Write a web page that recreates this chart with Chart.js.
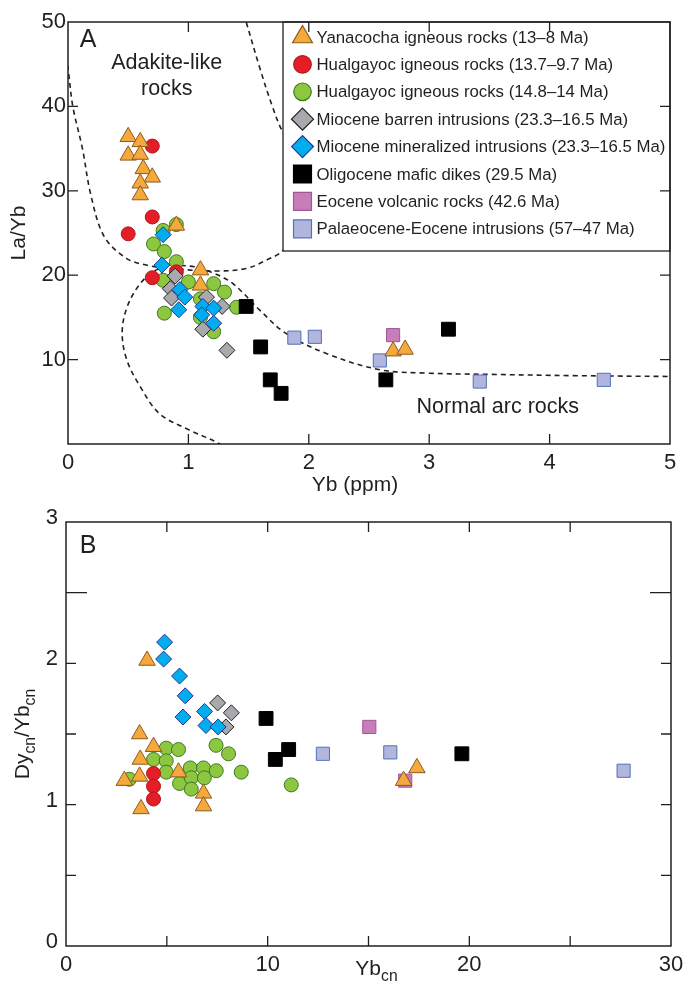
<!DOCTYPE html>
<html>
<head>
<meta charset="utf-8">
<script src="https://cdn.jsdelivr.net/npm/chart.js@4.4.1/dist/chart.umd.min.js"></script>
<style>
  body { margin: 0; background: #fff; }
  #boxA { position: absolute; left: 0; top: 0; width: 697px; height: 500px; }
  #boxB { position: absolute; left: 0; top: 500px; width: 697px; height: 492px; }
</style>
</head>
<body>
<div id="boxA"><canvas id="chartA" width="697" height="500"></canvas></div>
<div id="boxB"><canvas id="chartB" width="697" height="492"></canvas></div>
<script>
console.log("la_yb_page");

const FONT = "'Liberation Sans', Arial, Helvetica, sans-serif";
const INK = "#231f20";

// ---- panel A: La/Yb vs Yb (ppm)
const yanaA_x = [0.50, 0.60, 0.50, 0.60, 0.625, 0.70, 0.60, 0.60, 0.90, 1.10, 1.10, 2.70, 2.80];
const yanaA_y = [36.4, 35.8, 34.2, 34.3, 32.6, 31.6, 30.9, 29.5, 25.9, 20.6, 18.8, 11.0, 11.2];
const redA_x = [0.70, 0.70, 0.50, 0.70, 0.90];
const redA_y = [35.3, 26.9, 24.9, 19.7, 20.4];
const greenA_x = [0.79, 0.90, 0.71, 0.80, 0.90, 0.79, 1.00, 1.21, 1.30, 0.80, 1.10, 1.40, 1.21, 1.10];
const greenA_y = [25.3, 26.0, 23.7, 22.8, 21.6, 19.4, 19.2, 19.0, 18.0, 15.5, 17.2, 16.2, 13.3, 15.0];
const greyA_x = [0.89, 0.85, 0.86, 1.15, 1.28, 1.12, 1.32];
const greyA_y = [19.9, 18.4, 17.3, 17.4, 16.3, 13.6, 11.1];
const blueA_x = [0.79, 0.78, 0.93, 0.97, 0.92, 1.12, 1.21, 1.11, 1.21];
const blueA_y = [24.8, 21.2, 18.3, 17.4, 15.9, 16.3, 16.1, 15.3, 14.3];
const blackA_x = [1.48, 1.60, 1.68, 1.77, 2.64, 3.16];
const blackA_y = [16.3, 11.5, 7.6, 6.0, 7.6, 13.6];
const pinkA_x = [2.70];
const pinkA_y = [12.9];
const paleA_x = [1.88, 2.05, 2.59, 3.42, 4.45];
const paleA_y = [12.6, 12.7, 9.9, 7.4, 7.6];

// field boundaries in panel A
const adakiteX = [-0.03, 0.0, 0.04, 0.12, 0.19, 0.30, 0.485, 0.65, 0.85, 1.23, 1.48, 1.65, 1.79, 1.93, 1.99, 1.95, 1.79, 1.70, 1.59, 1.48, 1.45];
const adakiteY = [47.0, 44.5, 40.0, 35.0, 29.5, 24.6, 22.0, 21.2, 20.8, 20.5, 20.8, 21.8, 23.0, 26.5, 30.0, 33.5, 36.8, 39.9, 44.7, 50.0, 51.5];
const normalX = [1.33, 1.26, 1.00, 0.76, 0.60, 0.49, 0.45, 0.49, 0.60, 0.73, 0.87, 1.05, 1.20, 1.37, 1.59, 1.81, 2.15, 2.59, 2.98, 3.50, 4.20, 5.00, 5.10];
const normalY = [-1.0, 0.0, 1.7, 3.6, 6.8, 9.9, 13.1, 16.2, 19.0, 20.6, 21.1, 21.0, 20.3, 19.0, 15.9, 13.1, 10.7, 8.8, 8.4, 8.25, 8.1, 8.0, 8.0];

// ---- panel B: Dy_cn/Yb_cn vs Yb_cn
const yanaB_x = [4.02, 3.65, 4.34, 3.68, 3.65, 2.89, 5.58, 6.82, 6.82, 3.72, 16.74, 17.40];
const yanaB_y = [2.02, 1.50, 1.41, 1.32, 1.20, 1.17, 1.23, 1.08, 0.99, 0.97, 1.17, 1.26];
const redB_x = [4.34, 4.34, 4.34];
const redB_y = [1.22, 1.13, 1.04];
const greenB_x = [3.14, 4.97, 5.58, 4.34, 4.97, 4.97, 5.63, 6.16, 6.21, 6.21, 6.82, 6.86, 7.45, 7.44, 8.06, 8.69, 11.17];
const greenB_y = [1.18, 1.40, 1.39, 1.32, 1.31, 1.23, 1.15, 1.26, 1.19, 1.11, 1.26, 1.19, 1.24, 1.42, 1.36, 1.23, 1.14];
const greyB_x = [7.52, 8.20, 7.93];
const greyB_y = [1.72, 1.65, 1.55];
const blueB_x = [4.89, 4.84, 5.63, 5.91, 5.80, 6.87, 6.94, 7.54];
const blueB_y = [2.15, 2.03, 1.91, 1.77, 1.62, 1.66, 1.56, 1.55];
const blackB_x = [9.92, 11.04, 10.38, 19.63];
const blackB_y = [1.61, 1.39, 1.32, 1.36];
const pinkB_x = [15.04, 16.82];
const pinkB_y = [1.55, 1.17];
const paleB_x = [12.74, 16.08, 27.65];
const paleB_y = [1.36, 1.37, 1.24];

// series looks, legend order
const seriesKeys = ["yana", "red", "green", "grey", "blue", "black", "pink", "pale"];
const styles = {
    yana:  { label: "Yanacocha igneous rocks (13\u20138 Ma)", shape: "triangle", fill: "#F5A83B", stroke: "#8A5A1E", r: 9.5, lr: 11.5, order: 1 },
    red:   { label: "Hualgayoc igneous rocks (13.7\u20139.7 Ma)", shape: "circle", fill: "#E31E26", stroke: "#B3151C", r: 7, lr: 8.8, order: 5 },
    green: { label: "Hualgayoc igneous rocks (14.8\u201314 Ma)", shape: "circle", fill: "#8DC63F", stroke: "#3C7A22", r: 7, lr: 8.8, order: 6 },
    grey:  { label: "Miocene barren intrusions (23.3\u201316.5 Ma)", shape: "rectRot", fill: "#A7A9AC", stroke: "#231F20", r: 8, lr: 11, order: 3 },
    blue:  { label: "Miocene mineralized intrusions (23.3\u201316.5 Ma)", shape: "rectRot", fill: "#00AEEF", stroke: "#2E3192", r: 8, lr: 11, order: 2 },
    black: { label: "Oligocene mafic dikes (29.5 Ma)", shape: "rect", fill: "#000000", stroke: "#000000", r: 9.8, lr: 12.7, order: 4 },
    pink:  { label: "Eocene volcanic rocks (42.6 Ma)", shape: "rect", fill: "#C67DB8", stroke: "#A25597", r: 9.3, lr: 12.7, order: 7 },
    pale:  { label: "Palaeocene-Eocene intrusions (57\u201347 Ma)", shape: "rect", fill: "#B2B5DD", stroke: "#4F73B8", r: 9.3, lr: 12.7, order: 8 },
};

const panelA = {
    yana: [yanaA_x, yanaA_y], red: [redA_x, redA_y], green: [greenA_x, greenA_y], grey: [greyA_x, greyA_y],
    blue: [blueA_x, blueA_y], black: [blackA_x, blackA_y], pink: [pinkA_x, pinkA_y], pale: [paleA_x, paleA_y],
};
const panelB = {
    yana: [yanaB_x, yanaB_y], red: [redB_x, redB_y], green: [greenB_x, greenB_y], grey: [greyB_x, greyB_y],
    blue: [blueB_x, blueB_y], black: [blackB_x, blackB_y], pink: [pinkB_x, pinkB_y], pale: [paleB_x, paleB_y],
};

const xy = function (xs, ys) {
    return xs.map((x, i) => ({ x: x, y: ys[i] }));
};

const markerSets = function (panel) {
    return seriesKeys.map(k => ({
        label: styles[k].label,
        data: xy(panel[k][0], panel[k][1]),
        pointStyle: styles[k].shape,
        pointRadius: styles[k].r,
        pointHoverRadius: styles[k].r,
        backgroundColor: styles[k].fill,
        borderColor: styles[k].stroke,
        borderWidth: 1,
        order: styles[k].order,
    }));
};

const curveSet = function (xs, ys) {
    return {
        data: xy(xs, ys),
        showLine: true,
        pointRadius: 0,
        borderColor: INK,
        borderWidth: 1.6,
        borderDash: [5, 4],
        tension: 0.35,
        order: 20,
    };
};

// marker for the legend, same geometry as Chart.js point styles
const drawMarker = function (ctx, st, x, y, r) {
    ctx.beginPath();
    if (st.shape === "circle") {
        ctx.arc(x, y, r, 0, Math.PI * 2);
    } else if (st.shape === "triangle") {
        ctx.moveTo(x, y - r);
        ctx.lineTo(x + 0.866 * r, y + 0.5 * r);
        ctx.lineTo(x - 0.866 * r, y + 0.5 * r);
        ctx.closePath();
    } else if (st.shape === "rectRot") {
        ctx.moveTo(x - r, y);
        ctx.lineTo(x, y - r);
        ctx.lineTo(x + r, y);
        ctx.lineTo(x, y + r);
        ctx.closePath();
    } else {
        const s = r * Math.SQRT1_2;
        ctx.rect(x - s, y - s, 2 * s, 2 * s);
    }
    ctx.fillStyle = st.fill;
    ctx.fill();
    ctx.lineWidth = 1.2;
    ctx.strokeStyle = st.stroke;
    ctx.stroke();
};

// text with subscripts: parts = [[text, isSub], ...], centred on x
const drawParts = function (ctx, parts, x, y, size) {
    const fontOf = sub => (sub ? size * 0.75 : size) + "px " + FONT;
    let total = 0;
    parts.forEach(p => { ctx.font = fontOf(p[1]); total += ctx.measureText(p[0]).width; });
    let cx = x - total / 2;
    ctx.textAlign = "left";
    ctx.textBaseline = "alphabetic";
    parts.forEach(p => {
        ctx.font = fontOf(p[1]);
        ctx.fillText(p[0], cx, y + (p[1] ? size * 0.3 : 0));
        cx += ctx.measureText(p[0]).width;
    });
};

// frame and inward ticks on all four sides
const framePlugin = {
    id: "frame",
    afterDraw(chart, args, opts) {
        const { ctx, chartArea: a, scales } = chart;
        ctx.save();
        ctx.strokeStyle = INK;
        ctx.lineWidth = 1.5;
        ctx.strokeRect(a.left, a.top, a.right - a.left, a.bottom - a.top);
        ctx.lineWidth = 1.3;
        ctx.beginPath();
        opts.xTicks.forEach(v => {
            const px = scales.x.getPixelForValue(v);
            ctx.moveTo(px, a.bottom); ctx.lineTo(px, a.bottom - opts.len);
            ctx.moveTo(px, a.top); ctx.lineTo(px, a.top + opts.len);
        });
        opts.yTicks.forEach(v => {
            const py = scales.y.getPixelForValue(v);
            const len = opts.longY.includes(v) ? opts.longLen : opts.len;
            ctx.moveTo(a.left, py); ctx.lineTo(a.left + len, py);
            ctx.moveTo(a.right, py); ctx.lineTo(a.right - len, py);
        });
        ctx.stroke();
        ctx.restore();
    },
};

// white legend box sitting in the top right corner of panel A
const legendPlugin = {
    id: "legendBox",
    afterDatasetsDraw(chart) {
        const { ctx, chartArea: a } = chart;
        const w = 387, h = 229;
        const left = a.right - w, top = a.top;
        ctx.save();
        ctx.fillStyle = "#fff";
        ctx.fillRect(left, top, w, h);
        ctx.strokeStyle = INK;
        ctx.lineWidth = 1.3;
        ctx.strokeRect(left, top, w, h);
        ctx.font = "16.8px " + FONT;
        ctx.textBaseline = "middle";
        ctx.textAlign = "left";
        seriesKeys.forEach((k, i) => {
            const y = top + 15 + i * 27.4;
            drawMarker(ctx, styles[k], left + 19.5, y, styles[k].lr);
            ctx.fillStyle = INK;
            ctx.fillText(styles[k].label, left + 33.5, y + 1);
        });
        ctx.restore();
    },
};

const notesA = {
    id: "notesA",
    afterDraw(chart) {
        const { ctx, chartArea: a, scales } = chart;
        ctx.save();
        ctx.fillStyle = INK;
        ctx.textAlign = "center";
        ctx.textBaseline = "middle";
        ctx.font = "25px " + FONT;
        ctx.fillText("A", a.left + 20, a.top + 18);
        ctx.font = "21.5px " + FONT;
        ctx.fillText("Adakite-like", scales.x.getPixelForValue(0.82), scales.y.getPixelForValue(45.1));
        ctx.fillText("rocks", scales.x.getPixelForValue(0.82), scales.y.getPixelForValue(42.0));
        ctx.fillText("Normal arc rocks", scales.x.getPixelForValue(3.57), scales.y.getPixelForValue(4.4));
        ctx.font = "21px " + FONT;
        ctx.fillText("Yb (ppm)", (a.left + a.right) / 2 - 14, 485);
        ctx.translate(19, (a.top + a.bottom) / 2);
        ctx.rotate(-Math.PI / 2);
        ctx.fillText("La/Yb", 0, 0);
        ctx.restore();
    },
};

const notesB = {
    id: "notesB",
    afterDraw(chart) {
        const { ctx, chartArea: a } = chart;
        ctx.save();
        ctx.fillStyle = INK;
        ctx.textAlign = "center";
        ctx.textBaseline = "middle";
        ctx.font = "25px " + FONT;
        ctx.fillText("B", a.left + 22, a.top + 24);
        drawParts(ctx, [["Yb", false], ["cn", true]], (a.left + a.right) / 2 + 8, 475, 21);
        ctx.translate(29, (a.top + a.bottom) / 2);
        ctx.rotate(-Math.PI / 2);
        drawParts(ctx, [["Dy", false], ["cn", true], ["/Yb", false], ["cn", true]], 0, 0, 21);
        ctx.restore();
    },
};

const tickFont = { family: FONT, size: 22 };

const chartA = new Chart(document.getElementById("chartA"), {
    type: "scatter",
    data: {
        datasets: markerSets(panelA).concat([curveSet(adakiteX, adakiteY), curveSet(normalX, normalY)]),
    },
    plugins: [legendPlugin, notesA, framePlugin],
    options: {
        responsive: false,
        animation: false,
        events: [],
        layout: { padding: { left: 28, right: 27, top: 22, bottom: 26 } },
        plugins: {
            legend: { display: false },
            tooltip: { enabled: false },
            frame: { xTicks: [1, 2, 3, 4], yTicks: [10, 20, 30, 40], longY: [], len: 10, longLen: 10 },
        },
        scales: {
            x: {
                type: "linear", min: 0, max: 5,
                ticks: { stepSize: 1, font: tickFont, color: INK, padding: 6 },
                grid: { display: false, drawTicks: false },
                border: { display: false },
                afterFit: s => { s.height = 30; },
            },
            y: {
                type: "linear", min: 0, max: 50,
                ticks: { stepSize: 10, font: tickFont, color: INK, padding: 2, callback: v => (v === 0 ? "" : v) },
                grid: { display: false, drawTicks: false },
                border: { display: false },
                afterFit: s => { s.width = 40; },
            },
        },
    },
});

const chartB = new Chart(document.getElementById("chartB"), {
    type: "scatter",
    data: { datasets: markerSets(panelB) },
    plugins: [notesB, framePlugin],
    options: {
        responsive: false,
        animation: false,
        events: [],
        layout: { padding: { left: 26, right: 26, top: 22, bottom: 16 } },
        plugins: {
            legend: { display: false },
            tooltip: { enabled: false },
            frame: { xTicks: [5, 10, 15, 20, 25], yTicks: [0.5, 1, 1.5, 2, 2.5], longY: [2.5], len: 10, longLen: 21 },
        },
        scales: {
            x: {
                type: "linear", min: 0, max: 30,
                ticks: { stepSize: 10, font: tickFont, color: INK, padding: 6 },
                grid: { display: false, drawTicks: false },
                border: { display: false },
                afterFit: s => { s.height = 30; },
            },
            y: {
                type: "linear", min: 0, max: 3,
                ticks: { stepSize: 0.5, autoSkip: false, font: tickFont, color: INK, padding: 8, labelOffset: -4,
                         callback: v => (Number.isInteger(v) ? v : "") },
                grid: { display: false, drawTicks: false },
                border: { display: false },
                afterFit: s => { s.width = 40; },
            },
        },
    },
});
</script>
</body>
</html>
